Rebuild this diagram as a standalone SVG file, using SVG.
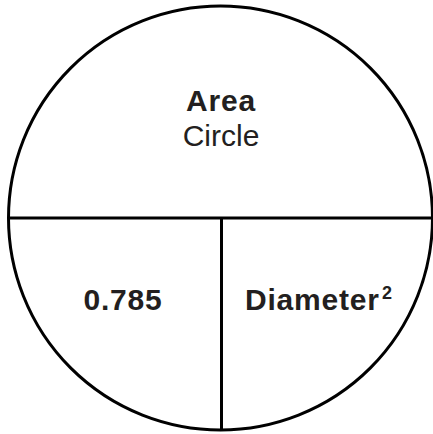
<svg xmlns="http://www.w3.org/2000/svg" width="433" height="434" viewBox="0 0 433 434">
<style>
.ln{stroke:#000;stroke-width:3;fill:none}
.t{font-family:"Liberation Sans",Arial,sans-serif;fill:#231f20;text-anchor:middle;font-size:30px}
.b{font-weight:bold;letter-spacing:0.8px}
</style>
<rect width="433" height="434" fill="#fff"/>
<g id="circle"><circle class="ln" cx="220.5" cy="218" r="212"/></g>
<g id="connectors">
<line class="ln" x1="8.5" y1="218" x2="432.5" y2="218"/>
<line class="ln" x1="221.5" y1="218" x2="221.5" y2="430"/>
</g>
<g id="top"><text class="t b" x="221" y="111">Area</text>
<text class="t" x="221" y="146">Circle</text></g>
<g id="left"><text class="t b" x="123" y="310">0.785</text></g>
<g id="right"><text class="t b" x="245" y="310" style="text-anchor:start">Diameter</text>
<text class="t b" x="382" y="299" style="text-anchor:start;font-size:18px">2</text></g>
</svg>
